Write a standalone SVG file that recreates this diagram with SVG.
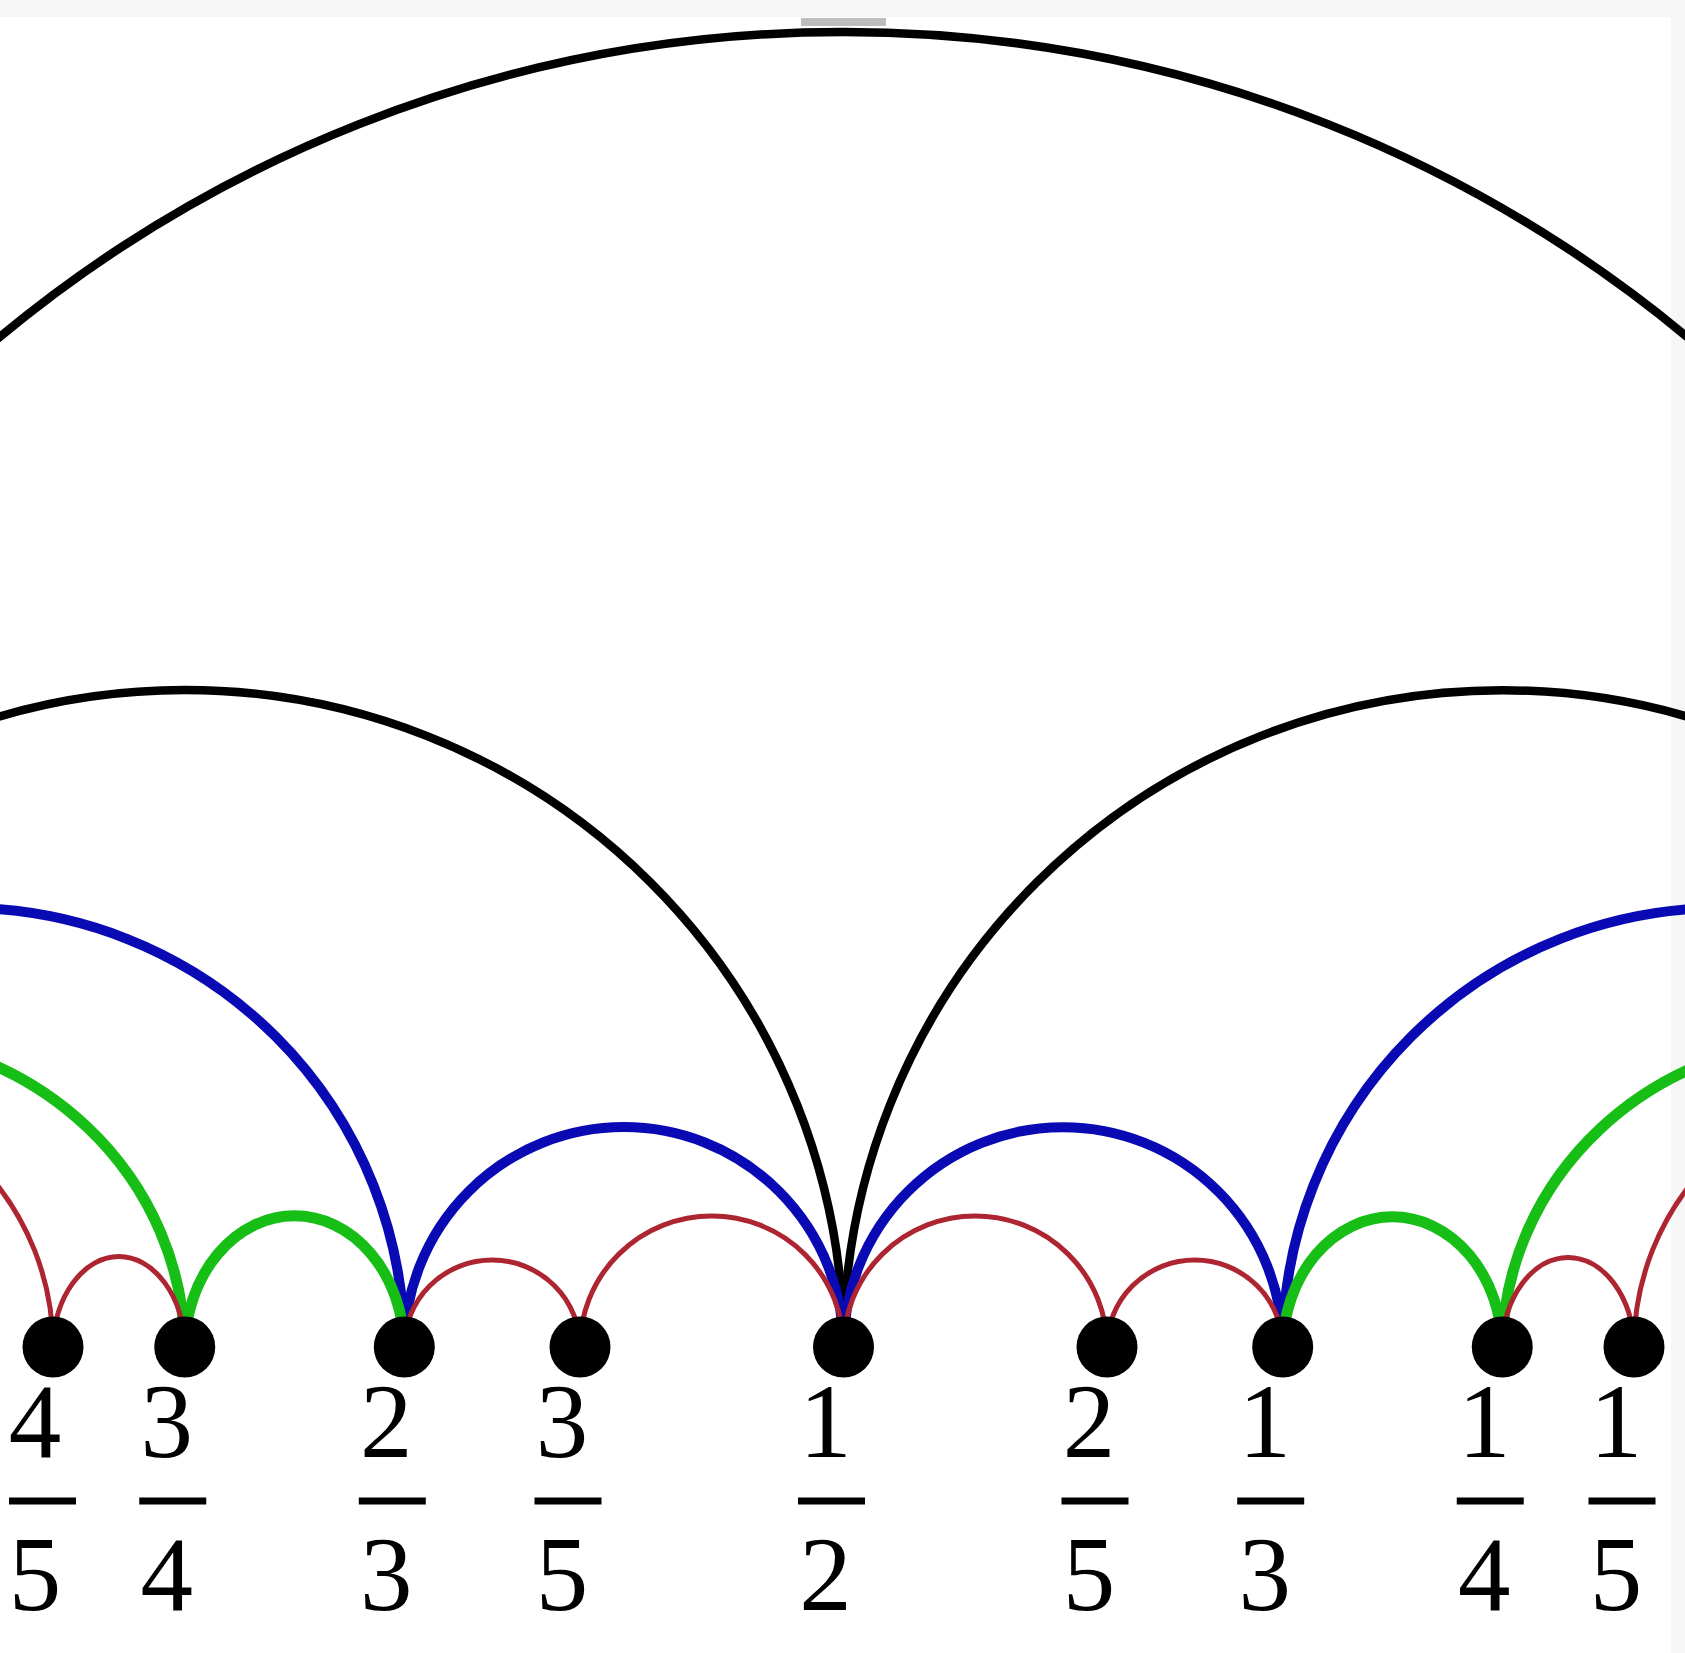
<svg xmlns="http://www.w3.org/2000/svg" width="1685" height="1653" viewBox="0 0 1685 1653">
<style>
.arc{fill:none;stroke-linecap:butt}
.k{stroke:#000;stroke-width:8.5}
.b{stroke:#0a0ab4;stroke-width:10}
.g{stroke:#16be16;stroke-width:11}
.r{stroke:#ad2530;stroke-width:5}
.dot{fill:#000}
.num{font-family:"Liberation Serif","Times New Roman",serif;font-size:105px;fill:#000;text-anchor:middle}
.bar{fill:#000}
</style>
<rect width="1685" height="1653" fill="#fff"/>
<rect x="0" y="0" width="1685" height="17" fill="#f6f6f6"/>
<rect x="1671" y="0" width="14" height="1653" fill="#f6f6f6"/>
<rect x="801" y="18" width="85" height="8" fill="#bdbdbd"/>
<g id="connectors">
  <path class="arc k" d="M -474 1347 A 1317.5 1315 0 0 1 2161 1347"/>
  <path class="arc k" d="M -474 1347 A 658.75 657 0 0 1 843.5 1347"/>
  <path class="arc k" d="M 843.5 1347 A 658.75 657 0 0 1 2161 1347"/>
  <path class="arc b" d="M -474 1347 A 439.15 439 0 0 1 404.3 1347"/>
  <path class="arc b" d="M 404.3 1347 A 219.6 220 0 0 1 843.5 1347"/>
  <path class="arc b" d="M 843.5 1347 A 219.6 220 0 0 1 1282.7 1347"/>
  <path class="arc b" d="M 1282.7 1347 A 439.15 439 0 0 1 2161 1347"/>
  <path class="arc g" d="M -474 1347 A 329.4 315 0 0 1 184.75 1347"/>
  <path class="arc g" d="M 184.75 1347 A 109.8 134 0 0 1 404.3 1347"/>
  <path class="arc g" d="M 1282.7 1347 A 109.8 133 0 0 1 1502.25 1347"/>
  <path class="arc g" d="M 1502.25 1347 A 329.4 312 0 0 1 2161 1347"/>
  <path class="arc r" d="M -474 1347 A 263.5 263 0 0 1 53 1347"/>
  <path class="arc r" d="M 53 1347 A 65.9 93 0 0 1 184.75 1347"/>
  <path class="arc r" d="M 404.3 1347 A 87.85 87 0 0 1 580 1347"/>
  <path class="arc r" d="M 580 1347 A 131.75 131 0 0 1 843.5 1347"/>
  <path class="arc r" d="M 843.5 1347 A 131.75 131 0 0 1 1107 1347"/>
  <path class="arc r" d="M 1107 1347 A 87.85 87 0 0 1 1282.7 1347"/>
  <path class="arc r" d="M 1502.25 1347 A 65.9 92 0 0 1 1634 1347"/>
  <path class="arc r" d="M 1634 1347 A 263.5 263 0 0 1 2161 1347"/>
</g>
<g id="n4_5"><circle class="dot" cx="53" cy="1347" r="30.5"/><text class="num" x="35" y="1457">4</text><rect class="bar" x="9" y="1497.5" width="67" height="7"/><text class="num" x="35" y="1610">5</text></g>
<g id="n3_4"><circle class="dot" cx="184.75" cy="1347" r="30.5"/><text class="num" x="166.75" y="1457">3</text><rect class="bar" x="139.25" y="1497.5" width="67" height="7"/><text class="num" x="166.75" y="1610">4</text></g>
<g id="n2_3"><circle class="dot" cx="404.3" cy="1347" r="30.5"/><text class="num" x="386.3" y="1457">2</text><rect class="bar" x="358.8" y="1497.5" width="67" height="7"/><text class="num" x="386.3" y="1610">3</text></g>
<g id="n3_5"><circle class="dot" cx="580" cy="1347" r="30.5"/><text class="num" x="562" y="1457">3</text><rect class="bar" x="534.5" y="1497.5" width="67" height="7"/><text class="num" x="562" y="1610">5</text></g>
<g id="n1_2"><circle class="dot" cx="843.5" cy="1347" r="30.5"/><text class="num" x="825.5" y="1457">1</text><rect class="bar" x="798" y="1497.5" width="67" height="7"/><text class="num" x="825.5" y="1610">2</text></g>
<g id="n2_5"><circle class="dot" cx="1107" cy="1347" r="30.5"/><text class="num" x="1089" y="1457">2</text><rect class="bar" x="1061.5" y="1497.5" width="67" height="7"/><text class="num" x="1089" y="1610">5</text></g>
<g id="n1_3"><circle class="dot" cx="1282.7" cy="1347" r="30.5"/><text class="num" x="1264.7" y="1457">1</text><rect class="bar" x="1237.2" y="1497.5" width="67" height="7"/><text class="num" x="1264.7" y="1610">3</text></g>
<g id="n1_4"><circle class="dot" cx="1502.25" cy="1347" r="30.5"/><text class="num" x="1484.25" y="1457">1</text><rect class="bar" x="1456.75" y="1497.5" width="67" height="7"/><text class="num" x="1484.25" y="1610">4</text></g>
<g id="n1_5"><circle class="dot" cx="1634" cy="1347" r="30.5"/><text class="num" x="1616" y="1457">1</text><rect class="bar" x="1588.5" y="1497.5" width="67" height="7"/><text class="num" x="1616" y="1610">5</text></g>
</svg>
